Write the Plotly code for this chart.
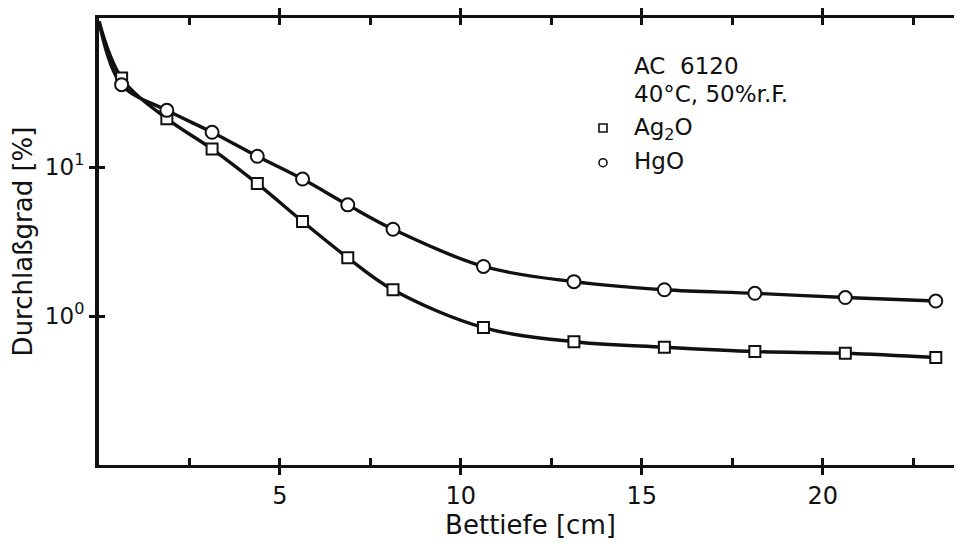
import plotly.graph_objects as go

# Data
depth_cm = [0.625, 1.875, 3.125, 4.375, 5.625, 6.875, 8.125,
            10.625, 13.125, 15.625, 18.125, 20.625, 23.125]
ag2o = [39.5, 21.1, 13.2, 7.74, 4.31, 2.46, 1.50, 0.836, 0.672, 0.617, 0.577, 0.562, 0.526]
hgo = [35.7, 24.0, 17.1, 11.8, 8.30, 5.57, 3.82, 2.15, 1.70, 1.50, 1.42, 1.33, 1.26]
start_depth = 0.0
ag2o_start = 95.0
hgo_start = 95.0

x_major = [5, 10, 15, 20]
x_all = [2.5, 5, 7.5, 10, 12.5, 15, 17.5, 20, 22.5]
y_ticks = [1, 10]
y_ticktext = ["10<sup>0</sup>", "10<sup>1</sup>"]

FONT = "DejaVu Sans"
BLACK = "#111111"

fig = go.Figure()

# smooth curves (start at bed inlet)
for start, vals in [(ag2o_start, ag2o), (hgo_start, hgo)]:
    fig.add_trace(go.Scatter(
        x=[start_depth] + depth_cm, y=[start] + vals, mode="lines",
        line=dict(color=BLACK, width=3.4, shape="spline", smoothing=1.0),
        showlegend=False, hoverinfo="skip"))

fig.add_trace(go.Scatter(
    x=depth_cm, y=ag2o, mode="markers", name="Ag2O",
    marker=dict(symbol="square", size=11, color="white", line=dict(color=BLACK, width=2)),
    showlegend=False))
fig.add_trace(go.Scatter(
    x=depth_cm, y=hgo, mode="markers", name="HgO",
    marker=dict(symbol="circle", size=13, color="white", line=dict(color=BLACK, width=2)),
    showlegend=False))

# dummy traces to activate overlay axes (tick decorations)
fig.add_trace(go.Scatter(x=[None], y=[None], xaxis="x2", yaxis="y2", showlegend=False))
fig.add_trace(go.Scatter(x=[None], y=[None], xaxis="x2", yaxis="y3", showlegend=False))

xr = [0, 23.85]
yr = [-1, 2]

# page body has an 8px default margin -> figure is 954x542, offset by 8px
fig.update_layout(
    width=954, height=542,
    margin=dict(l=91, r=0, t=6, b=85),
    paper_bgcolor="white", plot_bgcolor="white",
    font=dict(family=FONT, color=BLACK, size=24),
    xaxis=dict(
        range=xr, tickvals=x_major, ticks="outside", ticklen=7, tickwidth=3,
        tickcolor=BLACK, showline=True, linewidth=3, linecolor=BLACK, mirror="ticks",
        showgrid=False, zeroline=False, tickfont=dict(size=24, family=FONT),
        title=dict(text="Bettiefe [cm]", font=dict(size=26, family=FONT), standoff=8),
    ),
    xaxis2=dict(
        range=xr, overlaying="x", anchor="y", tickvals=x_all, ticks="inside",
        ticklen=7, tickwidth=3, tickcolor=BLACK, showline=True, linewidth=3,
        linecolor=BLACK, mirror="ticks", showticklabels=False, showgrid=False,
        zeroline=False,
    ),
    yaxis=dict(
        type="log", range=yr, tickvals=y_ticks, ticktext=y_ticktext,
        ticks="outside", ticklen=6, tickwidth=3, tickcolor=BLACK,
        showline=True, linewidth=4, linecolor=BLACK, mirror=False,
        showgrid=False, zeroline=False, tickfont=dict(size=23, family=FONT),
        title=dict(text="Durchlaßgrad [%]", font=dict(size=26, family=FONT), standoff=6),
    ),
    yaxis2=dict(
        type="log", range=yr, overlaying="y", side="right", anchor="x2",
        tickvals=y_ticks, ticks="inside", ticklen=5, tickwidth=3, tickcolor=BLACK,
        showline=False, showticklabels=False, showgrid=False, zeroline=False,
    ),
    yaxis3=dict(
        type="log", range=yr, overlaying="y", side="left", anchor="x2",
        tickvals=y_ticks, ticks="inside", ticklen=6, tickwidth=3, tickcolor=BLACK,
        showline=False, showticklabels=False, showgrid=False, zeroline=False,
    ),
)

# text block (paper coords relative to plot area: page y 14..465, x 99..962)
def py(page_y):
    return (465 - page_y) / 451

ann_x = (632 - 99) / 863
for txt, yp in [("AC  6120", py(62)), ("40°C, 50%r.F.", py(91)),
                ("Ag<sub>2</sub>O", py(126)), ("HgO", py(158))]:
    fig.add_annotation(text=txt, xref="paper", yref="paper", x=ann_x, y=yp,
                       xanchor="left", yanchor="middle", showarrow=False,
                       font=dict(size=23, family=FONT, color=BLACK))

# legend glyphs
sym_x = (603 - 99) / 863
fig.add_shape(type="rect", xref="paper", yref="paper", xsizemode="pixel", ysizemode="pixel",
              xanchor=sym_x, yanchor=py(125), x0=-4, x1=4, y0=-4, y1=4,
              line=dict(color=BLACK, width=1.6), fillcolor="white")
fig.add_shape(type="circle", xref="paper", yref="paper", xsizemode="pixel", ysizemode="pixel",
              xanchor=sym_x, yanchor=py(160), x0=-4, x1=4, y0=-4, y1=4,
              line=dict(color=BLACK, width=1.6), fillcolor="white")

fig.write_html("out.html")
